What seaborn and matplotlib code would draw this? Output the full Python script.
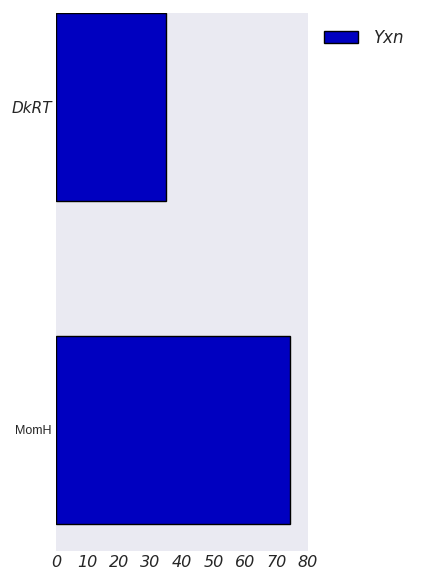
import matplotlib
matplotlib.use("Agg")
import matplotlib.pyplot as plt
import seaborn as sns
import pandas as pd

# data
categories = ["DkRT", "MomH"]
values = [35, 74.3]
series_name = "Yxn"
xticks = [0, 10, 20, 30, 40, 50, 60, 70, 80]

sns.set_style("dark")
plt.rcParams['font.family'] = ['DejaVu Sans']

df = pd.DataFrame({"cat": categories, "val": values, "series": series_name})

fig = plt.figure(figsize=(4.38, 5.84), dpi=100)
ax = fig.add_axes([56 / 438, 1 - 551 / 584, 252 / 438, 538 / 584])

sns.barplot(data=df, x="val", y="cat", hue="series", orient="h",
            palette=["#0000C0"], width=0.58, edgecolor="black",
            linewidth=1.0, saturation=1, ax=ax)

ax.set_xlim(0, 80)
ax.set_ylim(1.375, -0.291)
ax.set_xticks(xticks)
ax.set_xticklabels([str(t) for t in xticks], fontsize=11.5, style="italic")
ax.set_yticks([0, 1])
ax.set_yticklabels(categories)
ylabels = ax.get_yticklabels()
ylabels[0].set_fontsize(11)
ylabels[0].set_style("italic")
ylabels[1].set_fontsize(9)
ylabels[1].set_family("Liberation Sans")
ax.tick_params(axis="both", length=0, pad=3)
ax.set_xlabel("")
ax.set_ylabel("")
for s in ax.spines.values():
    s.set_visible(False)

leg = ax.legend(loc="upper left", bbox_to_anchor=(1.005, 0.9985), frameon=False,
                prop={"size": 12, "style": "italic"}, handlelength=2.0,
                handletextpad=1.0)

fig.savefig("out.png", dpi=100)
